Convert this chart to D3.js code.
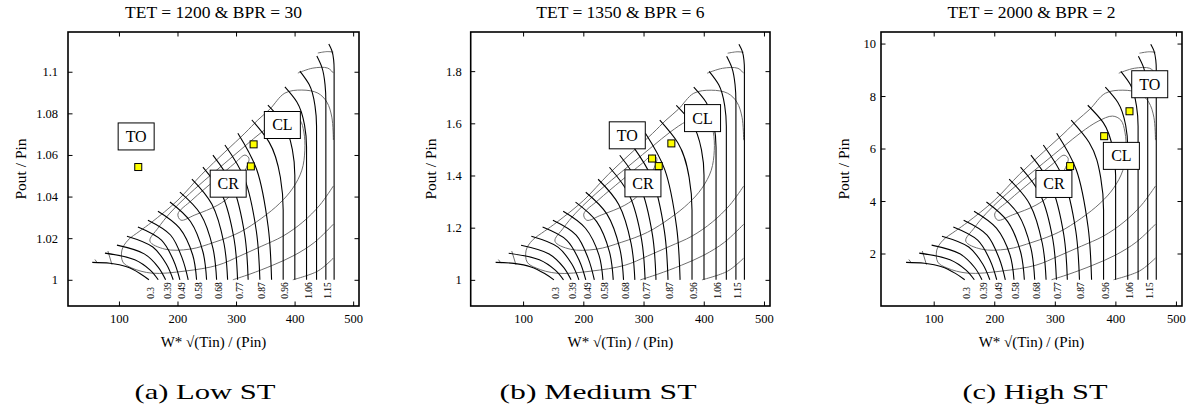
<!DOCTYPE html>
<html>
<head>
<meta charset="utf-8">
<script src="https://cdn.jsdelivr.net/npm/d3@7"></script>
<style>
  body { margin: 0; background: #fff; }
</style>
</head>
<body>
<svg id="chart" width="1202" height="419"></svg>
<script>
// ---- data (x = corrected mass flow, t = relative pressure rise 0..1 of the map) ----
const titles = ['TET = 1200 & BPR = 30', 'TET = 1350 & BPR = 6', 'TET = 2000 & BPR = 2'];
const captions = ['(a) Low ST', '(b) Medium ST', '(c) High ST'];
const xTicks = [100, 200, 300, 400, 500];
const xDomain = [13, 510];
const yTicks = [[1, 1.02, 1.04, 1.06, 1.08, 1.1], [1, 1.2, 1.4, 1.6, 1.8], [2, 4, 6, 8, 10]];
const yDomains = [[0.9874, 1.1191], [0.8998, 1.95], [0, 10.44]];
// pressure ratio reached at t = 1 is 1 + prRise
const prRise = [0.1133, 0.903, 8.973];

const speedLabels = ['0.3', '', '0.39', '', '0.49', '', '0.58', '', '0.68', '', '0.77', '', '0.87', '', '0.96', '', '1.06', '', '1.15', ''];
const speedLines = [
  [[54.4, .074], [84.6, .070], [113.1, .055], [135.8, .027], [151.2, 0]],
  [[76.1, .113], [127.0, .085], [153.4, .041], [167.1, 0]],
  [[96.6, .147], [143.2, .110], [167.3, .053], [179.7, 0]],
  [[113.7, .185], [157.9, .139], [180.9, .067], [192.7, 0]],
  [[132.4, .224], [172.6, .168], [193.4, .081], [204.1, 0]],
  [[149.5, .253], [188.1, .190], [208.1, .091], [218.3, 0]],
  [[166.6, .291], [203.6, .219], [226.0, .105], [232.6, 0]],
  [[187.1, .330], [222.2, .247], [243.4, .119], [249.7, 0]],
  [[204.1, .372], [239.3, .279], [260.5, .134], [266.8, 0]],
  [[224.6, .427], [258.8, .320], [279.4, .154], [285.6, 0]],
  [[243.4, .478], [276.5, .359], [296.7, .172], [302.6, 0]],
  [[260.5, .529], [294.3, .397], [314.8, .191], [320.7, 0]],
  [[281.0, .572], [314.4, .429], [334.7, .206], [340.7, 0]],
  [[303.1, .622], [335.4, .467], [354.9, .224], [360.7, 0]],
  [[327.0, .678], [356.7, .583], [375.7, .435], [380.5, .296], [380.5, 0]],
  [[354.4, .741], [380.0, .667], [396.2, .552], [400.4, .444], [400.4, 0]],
  [[383.4, .818], [403.9, .754], [417.0, .656], [420.4, .563], [420.4, 0]],
  [[409.0, .885], [424.9, .828], [434.9, .737], [437.5, .652], [437.5, 0]],
  [[438.0, .949], [446.5, .902], [452.0, .828], [453.4, .758], [453.4, 0]],
  [[458.4, 1.0], [463.4, .974], [466.7, .933], [467.5, .894], [467.5, 0]]
];

// efficiency contours (grey)
const effIsland = [[200.7, .279], [224.6, .338], [263.9, .423], [298.0, .495], [315.1, .529], [321.9, .516],
  [320.2, .491], [306.6, .423], [291.2, .359], [269.0, .317], [229.7, .275], [205.8, .253]];
const effInner = [[152.9, .164], [166.6, .219], [187.1, .283], [212.7, .347], [246.8, .423], [281.0, .495],
  [315.1, .567], [344.1, .627], [371.4, .673], [395.3, .695], [409.0, .678], [415.8, .627], [417.5, .550],
  [412.4, .465], [397.0, .389], [374.8, .325], [344.1, .262], [306.6, .202], [263.9, .160], [221.2, .130], [178.5, .130]];
const effMid = [[466.2, .398], [443.1, .317], [414.1, .245], [380.0, .185], [344.1, .143], [306.6, .101],
  [269.0, .062], [212.7, .037], [156.3, .028], [122.0, .050], [106.8, .075], [105.1, .126], [115.4, .168],
  [135.8, .207], [156.3, .245], [200.7, .338], [241.7, .448], [281.0, .542], [315.1, .622], [337.3, .678],
  [357.8, .724], [383.4, .792], [412.4, .805], [439.7, .792], [455.1, .754], [463.6, .690], [466.2, .593]];
const effOuterTop = [[405.6, .877], [431.2, .898], [456.8, .898], [466.2, .877]];
const effOuterLow = [[294.6, 0], [323.6, .024], [362.9, .062], [400.4, .105], [434.6, .160], [466.2, .236]];
const effOuterLeft = [[81.2, .122], [88.1, .064]];
const effEdgeTop = [[439.7, .962], [455.1, .968], [466.2, .966]];
const effEdgeLow = [[397.0, 0], [439.7, .037], [466.2, .092]];
const effEdgeLeft = [[59.0, .086], [63.3, .071]];

// operating points [label, mass flow, pressure ratio]
const opPoints = [
  [['TO', 133, 1.0542], ['CR', 325.3, 1.0545], ['CL', 330, 1.0651]],
  [['TO', 314.2, 1.465], ['CR', 325.2, 1.436], ['CL', 346.2, 1.523]],
  [['TO', 423.3, 7.42], ['CL', 381.5, 6.47], ['CR', 325.3, 5.33]]
];
const opBoxes = [
  [['TO', 129.4, 1.0689], ['CR', 286.6, 1.0462], ['CL', 379.1, 1.0744]],
  [['TO', 273, 1.554], ['CR', 299, 1.370], ['CL', 398, 1.620]],
  [['TO', 456.7, 8.45], ['CL', 409.9, 5.72], ['CR', 298.5, 4.65]]
];

// ---- layout ----
const serif = '"Liberation Serif", "DejaVu Serif", serif';
const frameTop = 32, frameBottom = 306;
const frames = [[68, 359], [470.7, 770], [881, 1182]];
const yLabelPad = [10, 9, 5];
const yTitleX = [20, 430, 843];
const captionX = [205, 598, 1035];
const captionW = [141, 197, 145];

const svg = d3.select('#chart');
svg.append('rect').attr('width', 1202).attr('height', 419).attr('fill', '#fff');

frames.forEach(([left, right], p) => {
  const x = d3.scaleLinear().domain(xDomain).range([left, right]);
  const y = d3.scaleLinear().domain(yDomains[p]).range([frameBottom, frameTop]);
  const pr = (t) => 1 + t * prRise[p];
  const g = svg.append('g');

  const open = d3.line().x(d => x(d[0])).y(d => y(pr(d[1]))).curve(d3.curveCatmullRom.alpha(0.5));
  const closed = d3.line().x(d => x(d[0])).y(d => y(pr(d[1]))).curve(d3.curveCatmullRomClosed.alpha(0.5));
  const vertical = d3.line().x(d => x(d[0])).y(d => y(pr(d[1]))).curve(d3.curveMonotoneY);

  // efficiency contours
  const grey = g.append('g').attr('fill', 'none').attr('stroke', '#6e6e6e').attr('stroke-width', 1);
  [effIsland, effInner].forEach(c => grey.append('path').attr('d', closed(c)));
  [effMid, effOuterTop, effOuterLow, effOuterLeft, effEdgeTop, effEdgeLow, effEdgeLeft]
    .forEach(c => grey.append('path').attr('d', open(c)));

  // speed lines (ones ending in a straight choke segment use a monotone curve)
  g.append('g').attr('fill', 'none').attr('stroke', '#000').attr('stroke-width', 1.1)
    .selectAll('path').data(speedLines).join('path')
    .attr('d', l => (l.length === 5 && l[3][0] === l[4][0]) ? vertical(l) : open(l));

  // speed labels
  g.append('g').selectAll('text')
    .data(speedLines.map((l, i) => ({ u: l[l.length - 1][0], label: speedLabels[i] })).filter(d => d.label))
    .join('text')
    .attr('transform', d => `translate(${x(d.u) + 2},${y(pr(0)) + 19}) rotate(-90)`)
    .attr('dominant-baseline', 'central')
    .style('font-family', serif).style('font-size', '9.5px')
    .text(d => d.label);

  // axes
  const xb = d3.axisBottom(x).tickValues(xTicks).tickSizeInner(-4.5).tickSizeOuter(0).tickPadding(8);
  const xt = d3.axisTop(x).tickValues(xTicks).tickSizeInner(-4.5).tickSizeOuter(0).tickFormat('');
  const yl = d3.axisLeft(y).tickValues(yTicks[p]).tickSizeInner(-4.5).tickSizeOuter(0)
    .tickPadding(yLabelPad[p]).tickFormat(d3.format(''));
  const yr = d3.axisRight(y).tickValues(yTicks[p]).tickSizeInner(-4.5).tickSizeOuter(0).tickFormat('');

  const axes = [
    g.append('g').attr('transform', `translate(0,${frameBottom})`).call(xb),
    g.append('g').attr('transform', `translate(0,${frameTop})`).call(xt),
    g.append('g').attr('transform', `translate(${left},0)`).call(yl),
    g.append('g').attr('transform', `translate(${right},0)`).call(yr)
  ];
  axes.forEach(a => {
    a.select('.domain').remove();
    a.selectAll('.tick line').attr('stroke', '#000');
    a.selectAll('text').attr('fill', '#000')
      .style('font-family', serif).style('font-size', '12.5px');
  });

  g.append('rect')
    .attr('x', left).attr('y', frameTop)
    .attr('width', right - left).attr('height', frameBottom - frameTop)
    .attr('fill', 'none').attr('stroke', '#000').attr('stroke-width', 1.6);

  // operating point labels
  const boxes = g.append('g').selectAll('g').data(opBoxes[p]).join('g')
    .attr('transform', d => `translate(${x(d[1])},${y(d[2])})`);
  boxes.append('rect').attr('x', -18).attr('y', -13.5).attr('width', 36).attr('height', 27)
    .attr('fill', '#fff').attr('stroke', '#000').attr('stroke-width', 1);
  boxes.append('text').attr('text-anchor', 'middle').attr('dominant-baseline', 'central')
    .style('font-family', serif).style('font-size', '16px').text(d => d[0]);

  // operating points
  g.append('g').selectAll('rect').data(opPoints[p]).join('rect')
    .attr('x', d => x(d[1]) - 3.5).attr('y', d => y(d[2]) - 3.5)
    .attr('width', 7).attr('height', 7)
    .attr('fill', '#ffff00').attr('stroke', '#000').attr('stroke-width', 1);

  // texts
  const cx = (left + right) / 2;
  g.append('text').attr('x', cx).attr('y', 18).attr('text-anchor', 'middle')
    .style('font-family', serif).style('font-size', '17.5px').text(titles[p]);
  g.append('text').attr('x', cx).attr('y', 347).attr('text-anchor', 'middle')
    .style('font-family', serif).style('font-size', '15px').text('W* \u221A(Tin) / (Pin)');
  g.append('text')
    .attr('transform', `translate(${yTitleX[p]},${(frameTop + frameBottom) / 2}) rotate(-90)`)
    .attr('text-anchor', 'middle').attr('dominant-baseline', 'central')
    .style('font-family', serif).style('font-size', '15.5px').text('Pout / Pin');
  g.append('text').attr('x', captionX[p] - captionW[p] / 2).attr('y', 399)
    .attr('textLength', captionW[p]).attr('lengthAdjust', 'spacingAndGlyphs')
    .style('font-family', serif).style('font-size', '21px').text(captions[p]);
});
</script>
</body>
</html>
